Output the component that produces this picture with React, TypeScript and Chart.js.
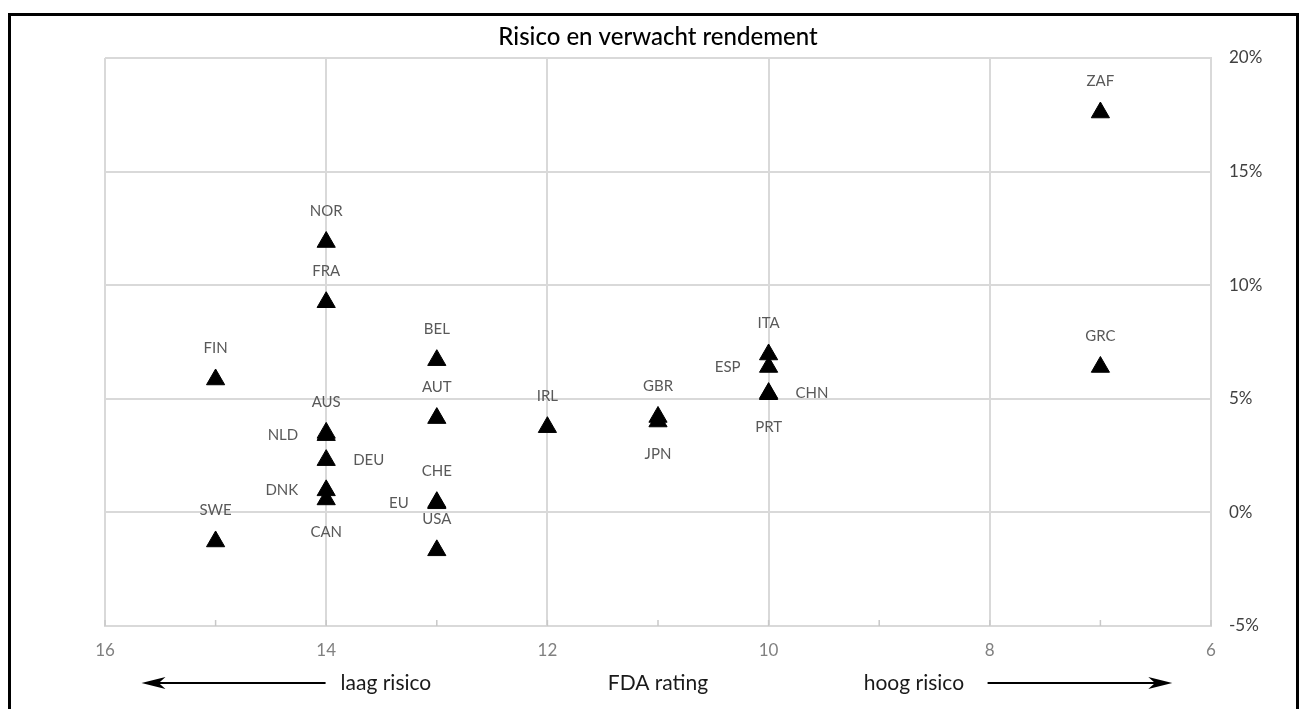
import React, { useEffect, useRef } from "react";
import { Chart, registerables } from "chart.js";

Chart.register(...registerables);

const countries = ["ZAF", "GRC", "NOR", "FRA", "FIN", "BEL", "AUT", "IRL", "GBR", "JPN", "ITA", "ESP", "CHN", "PRT", "AUS", "NLD", "DEU", "DNK", "CAN", "CHE", "EU", "USA", "SWE"];
const fdaRating = [7, 7, 14, 14, 15, 13, 13, 12, 11, 11, 10, 10, 10, 10, 14, 14, 14, 14, 14, 13, 13, 13, 15];
const expectedReturn = [17.6, 6.4, 11.9, 9.25, 5.85, 6.7, 4.15, 3.75, 4.2, 4.0, 6.95, 6.4, 5.25, 5.2, 3.5, 3.4, 2.3, 0.97, 0.57, 0.45, 0.4, -1.67, -1.28];
const labelSide = ["above", "above", "above", "above", "above", "above", "above", "above", "above", "below", "above", "left", "right", "below", "above", "left", "right", "left", "below", "above", "left", "above", "above"];

const xTicks = [16, 14, 12, 10, 8, 6];
const yTicks = [-5, 0, 5, 10, 15, 20];

const TITLE = "Risico en verwacht rendement";
const X_TITLE = "FDA rating";
const LOW_RISK = "laag risico";
const HIGH_RISK = "hoog risico";

const FONT = "Lato, 'Noto Sans', sans-serif";
const GRID = "#d9d9d9";

function arrow(ctx: CanvasRenderingContext2D, x1: number, x2: number, y: number) {
  const dir = x2 > x1 ? 1 : -1;
  const head = 24;
  ctx.save();
  ctx.strokeStyle = "#000";
  ctx.fillStyle = "#000";
  ctx.lineWidth = 2;
  ctx.beginPath();
  ctx.moveTo(x1, y);
  ctx.lineTo(x2 - dir * head * 0.7, y);
  ctx.stroke();
  ctx.beginPath();
  ctx.moveTo(x2, y);
  ctx.lineTo(x2 - dir * head, y - 6);
  ctx.lineTo(x2 - dir * head * 0.72, y);
  ctx.lineTo(x2 - dir * head, y + 6);
  ctx.closePath();
  ctx.fill();
  ctx.restore();
}

const decorPlugin = {
  id: "decor",
  afterDatasetsDraw(chart: any) {
    const ctx: CanvasRenderingContext2D = chart.ctx;
    const xs = chart.scales.x;
    const ys = chart.scales.y;
    const area = chart.chartArea;
    ctx.save();
    // minor tick marks on the bottom axis
    ctx.strokeStyle = "#c8c8c8";
    ctx.lineWidth = 1.5;
    for (let v = xs.min; v <= xs.max; v++) {
      const px = xs.getPixelForValue(v);
      ctx.beginPath();
      ctx.moveTo(px, area.bottom);
      ctx.lineTo(px, area.bottom - 6);
      ctx.stroke();
    }
    // point labels
    ctx.fillStyle = "#595959";
    ctx.font = `15px ${FONT}`;
    countries.forEach((name, i) => {
      const px = xs.getPixelForValue(fdaRating[i]);
      const py = ys.getPixelForValue(expectedReturn[i]);
      const side = labelSide[i];
      ctx.textBaseline = "middle";
      if (side === "above") {
        ctx.textAlign = "center";
        ctx.fillText(name, px, py - 31);
      } else if (side === "below") {
        ctx.textAlign = "center";
        ctx.fillText(name, px, py + 33);
      } else if (side === "left") {
        ctx.textAlign = "right";
        ctx.fillText(name, px - 28, py);
      } else {
        ctx.textAlign = "left";
        ctx.fillText(name, px + 27, py);
      }
    });
    // title
    const cx = (area.left + area.right) / 2;
    ctx.fillStyle = "#000";
    ctx.font = `500 24px ${FONT}`;
    ctx.textAlign = "center";
    ctx.textBaseline = "middle";
    ctx.fillText(TITLE, cx, 37);
    // bottom annotation row
    const rowY = 683;
    ctx.fillStyle = "#1a1a1a";
    ctx.font = `21px ${FONT}`;
    ctx.textAlign = "center";
    ctx.fillText(X_TITLE, cx, rowY);
    ctx.textAlign = "left";
    const w = area.right - area.left;
    const lowX = area.left + w * 0.213;
    ctx.fillText(LOW_RISK, lowX, rowY);
    const highX = area.left + w * 0.686;
    ctx.fillText(HIGH_RISK, highX, rowY);
    ctx.restore();
    arrow(ctx, lowX - 15, area.left + w * 0.033, rowY);
    arrow(ctx, area.left + w * 0.798, area.left + w * 0.965, rowY);
  },
};

export default function App() {
  const ref = useRef<HTMLCanvasElement>(null);
  useEffect(() => {
    let chart: Chart | null = null;
    let cancelled = false;
    const make = () => {
      if (cancelled || !ref.current) return;
      chart = new Chart(ref.current, {
        type: "scatter",
        data: {
          datasets: [
            {
              data: fdaRating.map((x, i) => ({ x, y: expectedReturn[i] })),
              pointStyle: "triangle",
              pointRadius: 10.5,
              backgroundColor: "#000",
              borderColor: "#000",
              borderWidth: 1,
            },
          ],
        },
        options: {
          responsive: false,
          animation: false,
          layout: { padding: { left: 105, top: 58, right: 0, bottom: 0 } },
          plugins: { legend: { display: false }, tooltip: { enabled: false }, title: { display: false } },
          scales: {
            x: {
              type: "linear",
              position: "bottom",
              reverse: true,
              min: Math.min(...xTicks),
              max: Math.max(...xTicks),
              afterBuildTicks: (s: any) => { s.ticks = xTicks.map((v) => ({ value: v })); },
              afterFit: (s: any) => { s.height = 83; },
              ticks: { color: "#808080", font: { family: FONT, size: 17 }, padding: 14, maxRotation: 0 },
              grid: { color: GRID, lineWidth: 2, drawTicks: false },
              border: { color: GRID, width: 2 },
            },
            y: {
              type: "linear",
              position: "right",
              min: Math.min(...yTicks),
              max: Math.max(...yTicks),
              afterBuildTicks: (s: any) => { s.ticks = yTicks.map((v) => ({ value: v })); },
              afterFit: (s: any) => { s.width = 92; },
              ticks: { color: "#404040", font: { family: FONT, size: 17 }, padding: 18, callback: (v: any) => `${v}%` },
              grid: { color: GRID, lineWidth: 2, drawTicks: false },
              border: { color: GRID, width: 2 },
            },
          },
        },
        plugins: [decorPlugin],
      });
    };
    const fonts: any = (document as any).fonts;
    if (fonts && fonts.load) {
      Promise.all([fonts.load(`15px Lato`), fonts.load(`500 24px Lato`)]).then(make, make);
    } else make();
    return () => {
      cancelled = true;
      if (chart) chart.destroy();
    };
  }, []);

  return (
    <div style={{ position: "fixed", left: 0, top: 0, width: 1303, height: 709, overflow: "hidden", background: "#fff" }}>
      <canvas ref={ref} width={1303} height={709} style={{ position: "absolute", left: 0, top: 0, width: 1303, height: 709 }} />
      <div style={{ position: "absolute", left: 8, top: 13, width: 1291, height: 800, boxSizing: "border-box", border: "3px solid #000", pointerEvents: "none" }} />
    </div>
  );
}
